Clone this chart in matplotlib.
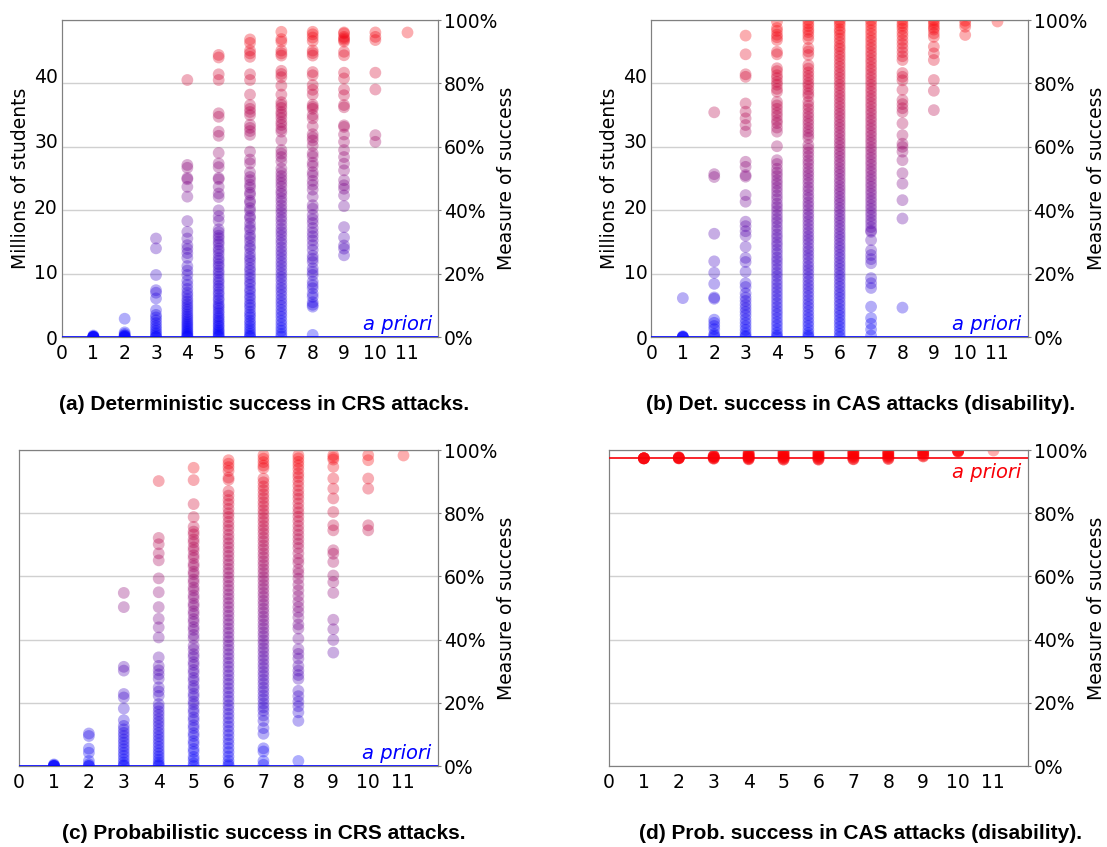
import matplotlib
matplotlib.use("Agg")
from matplotlib import pyplot as plt

# number of questions / attributes on the x axis
columns = list(range(1, 12))

# measure of success (%) of each attack, one list per column 1..11
det_crs = [
    [0.0, 0.0, 0.0, 0.0, 0.2, 0.2, 0.5],
    [5.8, 1.5, 1.0, 0.5, 0.5, 0.2, 0.0, 0.0],
    [31.1, 28.0, 19.6, 14.8, 14.0, 12.2, 8.5, 7.0, 6.2, 5.3, 4.4, 3.5, 2.7,
     1.9, 1.2, 0.6, 0.0, 0.0],
    [81.1, 54.3, 53.4, 50.2, 49.8, 47.4, 44.3, 36.6, 33.2, 31.1, 29.0, 27.8,
     26.5, 25.0, 22.4, 21.0, 19.6, 17.8, 16.5, 15.2, 14.0, 13.1, 12.0, 11.2,
     10.3, 9.5, 8.7, 7.9, 7.1, 6.4, 5.7, 5.0, 4.4, 3.8, 3.2, 2.6, 2.0, 1.5,
     1.0, 0.6, 0.2, 0.0],
    [89.0, 88.2, 82.9, 81.1, 70.6, 69.5, 64.8, 63.5, 58.1, 54.8, 53.6, 50.2,
     49.8, 47.4, 45.3, 44.2, 40.0, 38.1, 36.7, 34.0, 33.1, 32.0, 31.2, 30.1,
     29.3, 28.0, 27.2, 26.1, 24.9, 24.1, 23.0, 22.2, 21.0, 20.2, 19.1, 18.0,
     17.2, 16.1, 15.3, 14.2, 13.4, 12.3, 11.6, 10.5, 9.8, 9.1, 8.2, 7.5, 6.6,
     6.0, 5.2, 4.6, 3.8, 3.3, 2.5, 2.0, 1.4, 0.9, 0.4, 0.0],
    [93.9, 92.8, 90.4, 89.5, 88.4, 82.9, 81.1, 76.5, 73.2, 72.0, 71.0, 70.0,
     67.0, 66.0, 65.0, 63.8, 58.5, 56.0, 54.8, 52.0, 50.5, 49.5, 48.1, 47.2,
     45.6, 44.9, 43.0, 42.4, 40.7, 39.8, 38.1, 37.5, 35.9, 34.6, 33.8, 32.2,
     31.3, 30.1, 28.7, 27.9, 26.4, 25.2, 24.3, 23.1, 21.8, 20.9, 19.7, 18.6,
     17.4, 16.5, 15.2, 14.3, 13.1, 12.2, 11.0, 10.1, 9.2, 8.0, 7.1, 6.3, 5.2,
     4.4, 3.5, 2.6, 1.8, 1.0, 0.4, 0.0],
    [96.3, 94.0, 93.2, 90.4, 89.5, 88.8, 84.0, 83.0, 82.0, 79.3, 76.5, 74.1,
     73.2, 72.3, 71.0, 70.2, 69.1, 67.8, 66.9, 65.7, 64.8, 62.1, 59.0, 57.9,
     56.8, 55.4, 53.2, 51.9, 50.8, 49.7, 48.6, 47.5, 46.1, 45.2, 43.9, 42.8,
     41.5, 40.3, 39.2, 37.9, 36.8, 35.5, 34.2, 33.1, 32.0, 30.7, 29.6, 28.3,
     27.1, 26.0, 24.8, 23.6, 22.5, 21.3, 20.1, 19.0, 17.9, 16.6, 15.5, 14.4,
     13.2, 12.0, 10.9, 9.8, 8.6, 7.5, 6.4, 5.2, 4.1, 3.0, 2.0, 1.0, 0.2],
    [96.3, 95.5, 94.5, 93.4, 90.4, 89.6, 88.8, 83.6, 82.6, 79.5, 78.0, 76.5,
     73.3, 72.6, 72.0, 70.0, 69.0, 66.5, 64.0, 63.0, 62.0, 60.4, 58.0, 57.0,
     55.0, 54.0, 52.0, 51.0, 49.3, 48.0, 46.5, 44.3, 41.6, 40.5, 38.5, 37.2,
     36.0, 34.4, 33.0, 31.8, 30.5, 29.0, 27.5, 25.7, 24.7, 23.7, 21.7, 20.6,
     19.6, 17.5, 16.4, 15.4, 13.7, 12.7, 11.0, 10.2, 9.6, 0.7],
    [96.1, 95.8, 94.7, 94.2, 93.7, 93.2, 90.0, 88.9, 83.4, 81.6, 78.1, 76.3,
     73.2, 72.5, 66.8, 66.3, 63.9, 61.6, 59.0, 56.8, 54.7, 52.6, 49.5, 47.9,
     46.8, 44.7, 41.3, 34.7, 31.4, 28.9, 27.9, 25.8],
    [96.1, 94.7, 93.7, 83.4, 78.1, 63.7, 61.6],
    [96.1],
]

det_cas = [
    [12.3, 0.3, 0.0, 0.0, 0.0, 0.0],
    [70.9, 51.4, 50.5, 32.6, 23.9, 20.3, 16.8, 12.5, 12.1, 5.5, 4.5, 3.5, 2.5,
     1.0, 0.5, 0.0],
    [95.1, 89.2, 82.9, 82.1, 73.7, 71.1, 69.0, 66.9, 64.8, 55.3, 53.7, 51.1,
     50.6, 44.8, 42.7, 36.4, 35.0, 33.4, 32.0, 28.5, 25.0, 23.7, 20.6, 17.0,
     15.8, 13.8, 12.5, 11.4, 10.2, 9.1, 8.0, 6.9, 5.6, 4.5, 3.4, 2.3, 1.2,
     0.4, 0.0],
    [99.5, 97.5, 96.6, 95.4, 94.6, 93.7, 90.0, 89.2, 84.8, 83.9, 82.6, 81.7,
     80.5, 79.6, 78.3, 77.4, 74.2, 73.1, 72.0, 70.8, 69.7, 68.4, 67.5, 66.1,
     64.8, 60.2, 55.8, 54.6, 53.1, 51.9, 50.8, 49.5, 48.4, 47.2, 46.0, 44.7,
     43.5, 42.1, 41.0, 39.8, 38.5, 37.3, 36.2, 34.9, 33.7, 32.4, 31.3, 30.0,
     28.9, 27.6, 26.4, 25.1, 24.0, 22.8, 21.5, 20.3, 19.2, 17.9, 16.7, 15.5,
     14.3, 13.1, 11.9, 10.7, 9.5, 8.3, 7.2, 6.0, 4.8, 3.7, 2.5, 1.4, 0.5, 0.0],
    [100.0, 99.0, 98.1, 97.0, 96.2, 95.1, 94.0, 91.2, 90.1, 89.0, 85.8, 84.7,
     83.5, 82.4, 81.3, 80.1, 79.2, 78.0, 76.9, 76.0, 74.2, 73.0, 71.9, 70.6,
     69.5, 68.3, 67.2, 66.0, 64.9, 63.8, 62.8, 60.6, 59.4, 58.2, 57.0, 55.7,
     54.6, 53.3, 52.1, 51.0, 49.8, 48.6, 47.3, 46.2, 44.9, 43.8, 42.5, 41.4,
     40.2, 38.9, 37.8, 36.6, 35.4, 34.2, 33.0, 31.8, 30.7, 29.5, 28.2, 27.1,
     25.9, 24.8, 23.5, 22.3, 21.2, 20.0, 18.8, 17.6, 16.4, 15.3, 14.1, 12.9,
     11.7, 10.5, 9.4, 8.2, 7.0, 5.9, 4.7, 3.6, 2.4, 1.3, 0.5, 0.0],
    [100.0, 99.2, 98.3, 97.1, 96.3, 95.2, 94.1, 93.0, 91.8, 90.9, 89.7, 88.6,
     87.5, 86.3, 85.2, 84.0, 82.9, 81.8, 80.6, 79.5, 78.4, 77.2, 76.1, 75.0,
     73.8, 72.7, 71.5, 70.4, 69.3, 68.1, 67.0, 65.9, 64.7, 63.6, 62.4, 61.3,
     60.2, 59.0, 57.9, 56.8, 55.6, 54.5, 53.3, 52.2, 51.1, 49.9, 48.8, 47.6,
     46.5, 45.4, 44.2, 43.1, 42.0, 40.8, 39.7, 38.5, 37.4, 36.3, 35.1, 34.0,
     32.8, 31.7, 30.6, 29.4, 28.3, 27.2, 26.0, 24.9, 23.7, 22.6, 21.5, 20.3,
     19.2, 18.1, 16.9, 15.8, 14.6, 13.5, 12.4, 11.2, 10.1, 8.9, 7.8, 6.7, 5.5,
     4.4, 3.3, 2.1, 1.0, 0.0],
    [100.0, 99.1, 98.0, 96.8, 95.7, 94.5, 93.4, 92.2, 91.1, 89.9, 88.8, 87.6,
     86.5, 85.3, 84.2, 83.0, 81.9, 80.7, 79.6, 78.4, 77.3, 76.1, 75.0, 73.8,
     72.7, 71.5, 70.4, 69.2, 68.1, 66.9, 65.8, 64.6, 63.5, 62.3, 61.2, 60.0,
     58.9, 57.7, 56.6, 55.4, 54.3, 53.1, 52.0, 50.8, 49.7, 48.5, 47.4, 46.2,
     45.1, 43.9, 42.8, 41.6, 40.5, 39.3, 38.2, 37.0, 35.9, 34.7, 33.6, 33.2,
     30.6, 27.4, 25.9, 24.6, 23.3, 18.6, 17.0, 15.5, 9.6, 6.0, 4.2, 2.4, 0.5],
    [100.0, 99.0, 98.2, 97.3, 96.1, 95.0, 93.7, 92.5, 91.2, 89.9, 88.6, 87.4,
     83.3, 82.1, 81.0, 78.0, 74.8, 73.5, 72.2, 71.0, 67.4, 63.7, 61.0, 60.0,
     58.5, 55.8, 51.7, 48.4, 43.2, 37.4, 9.3],
    [100.0, 99.3, 98.5, 97.6, 97.0, 95.8, 94.7, 91.6, 89.5, 87.4, 81.1, 77.7,
     71.6],
    [99.8, 98.9, 97.9, 95.3],
    [99.8],
]

prob_crs = [
    [0.5, 0.3, 0.0, 0.0, 0.0, 0.0],
    [10.3, 9.5, 5.5, 4.2, 1.6, 0.5, 0.0, 0.0],
    [54.8, 50.3, 31.4, 30.2, 22.8, 21.7, 18.2, 14.5, 12.7, 11.6, 10.5, 9.5,
     8.4, 7.4, 6.3, 5.3, 4.2, 3.2, 2.1, 1.1, 0.3, 0.0],
    [90.2, 72.2, 70.2, 67.3, 65.1, 59.4, 55.0, 50.3, 46.6, 43.9, 40.7, 34.4,
     31.7, 30.3, 29.0, 27.6, 24.9, 23.6, 22.2, 19.6, 18.5, 17.3, 16.2, 15.0,
     13.9, 12.8, 11.6, 10.5, 9.4, 8.3, 7.2, 6.1, 5.0, 4.0, 3.0, 2.0, 1.1, 0.4,
     0.0],
    [94.4, 90.5, 82.9, 78.8, 75.7, 74.2, 73.3, 71.7, 70.8, 69.2, 68.3, 66.7,
     65.8, 64.0, 63.2, 61.5, 60.7, 59.0, 58.1, 56.5, 55.6, 54.0, 53.1, 51.4,
     50.6, 49.0, 48.1, 46.5, 45.6, 44.0, 43.1, 41.5, 40.4, 38.1, 36.9, 35.4,
     34.5, 32.9, 32.0, 30.4, 29.5, 27.9, 27.0, 25.4, 24.5, 22.9, 22.0, 20.4,
     19.5, 17.9, 17.0, 15.4, 14.5, 12.9, 12.0, 10.4, 9.5, 7.9, 7.0, 5.4, 4.5,
     2.9, 2.0, 0.8, 0.0],
    [96.8, 95.7, 94.6, 93.4, 91.3, 90.6, 87.0, 85.6, 84.2, 82.9, 81.4, 80.0,
     78.8, 77.3, 76.0, 74.7, 73.2, 71.9, 70.5, 69.2, 67.8, 66.5, 65.1, 63.8,
     62.4, 61.1, 59.7, 58.4, 57.0, 55.7, 54.3, 53.0, 51.6, 50.3, 48.9, 47.6,
     46.2, 44.9, 43.5, 42.2, 40.8, 39.5, 38.1, 36.8, 35.4, 34.1, 32.7, 31.4,
     30.0, 28.7, 27.3, 26.0, 24.6, 23.3, 21.9, 20.6, 19.2, 17.9, 16.5, 15.2,
     13.8, 12.5, 11.1, 9.8, 8.4, 7.1, 5.7, 4.4, 3.0, 1.7, 0.6, 0.0],
    [98.4, 97.3, 96.2, 95.1, 94.3, 91.0, 89.8, 88.5, 87.3, 86.0, 84.8, 83.5,
     82.3, 81.0, 79.8, 78.5, 77.3, 76.0, 74.8, 73.6, 72.3, 71.1, 69.8, 68.6,
     67.3, 66.1, 64.8, 63.6, 62.3, 61.1, 59.8, 58.6, 57.3, 56.1, 54.8, 53.6,
     52.3, 51.1, 49.8, 48.6, 47.3, 46.1, 44.8, 43.6, 42.3, 41.1, 39.8, 38.6,
     37.3, 36.1, 34.8, 33.6, 32.3, 31.1, 29.8, 28.6, 27.3, 26.1, 24.8, 23.6,
     22.3, 21.1, 19.8, 18.6, 17.5, 16.0, 14.3, 12.0, 10.2, 5.6, 4.6, 1.6, 0.4],
    [98.4, 97.4, 96.3, 95.2, 94.0, 92.6, 91.5, 90.1, 88.7, 87.2, 85.9, 84.6,
     83.1, 81.6, 80.3, 78.9, 77.5, 76.0, 74.6, 73.2, 71.8, 70.4, 69.0, 67.3,
     65.5, 64.3, 62.2, 61.0, 59.3, 57.4, 55.6, 53.8, 52.0, 50.3, 48.8, 47.0,
     44.8, 43.5, 40.3, 37.0, 35.5, 34.0, 31.7, 30.2, 28.8, 27.6, 23.8, 22.1,
     20.4, 18.9, 17.0, 14.3, 1.6],
    [98.4, 97.6, 97.0, 94.7, 91.0, 87.8, 84.7, 80.4, 76.2, 74.6, 68.3, 67.2,
     64.6, 60.3, 58.2, 54.8, 46.3, 43.3, 39.9, 35.9],
    [98.4, 96.8, 91.0, 87.8, 76.2, 74.6],
    [98.4],
]

prob_cas = [
    [97.4, 97.4, 97.4, 97.4, 97.4, 97.4, 97.4, 97.4],
    [97.4, 97.4, 97.4, 97.5, 97.5, 97.7, 97.7, 97.7],
    [97.3, 97.3, 97.5, 97.5, 97.7, 97.9, 97.9, 98.1, 98.1, 98.2],
    [97.1, 97.1, 97.3, 97.5, 97.5, 97.7, 97.9, 98.1, 98.2, 98.4, 98.6, 98.9,
     99.1, 99.3],
    [97.0, 97.0, 97.2, 97.5, 97.5, 97.8, 98.0, 98.2, 98.5, 98.7, 99.0, 99.2,
     99.5, 99.7],
    [97.0, 97.0, 97.2, 97.4, 97.6, 97.9, 98.1, 98.4, 98.6, 98.9, 99.1, 99.4,
     99.6],
    [97.1, 97.1, 97.3, 97.6, 97.8, 98.1, 98.3, 98.6, 98.8, 99.1, 99.3, 99.5,
     99.7],
    [97.2, 97.2, 97.5, 97.7, 98.0, 98.2, 98.5, 98.7, 99.0, 99.2, 99.4, 99.6],
    [98.0, 98.0, 98.3, 98.6, 98.9, 99.2, 99.4, 99.6, 99.8],
    [99.5, 99.5, 99.6, 99.7, 99.8, 99.9],
    [99.9],
]

# a priori measure of success of each setting
priors = [0.0, 0.0, 0.0, 97.4]

captions = [
    "(a) Deterministic success in CRS attacks.",
    "(b) Det. success in CAS attacks (disability).",
    "(c) Probabilistic success in CRS attacks.",
    "(d) Prob. success in CAS attacks (disability).",
]

MILLIONS_AT_100 = 48.4


def success_color(p):
    # blue for no success, red for full success
    f = min(max(p / 100.0, 0.0), 1.0)
    return (f, 0.0, 1.0 - f)


def draw_panel(fig, rect, data, prior, caption, caption_xy, show_students):
    ax = fig.add_axes(rect)
    ax2 = ax.twinx()

    ax.set_xlim(0, 12)
    ax.set_ylim(0, MILLIONS_AT_100)
    ax.set_xticks(range(0, 12))
    ax.tick_params(axis="x", length=0, pad=5, labelsize=13.5)
    if show_students:
        ax.set_yticks([0, 10, 20, 30, 40])
        ax.tick_params(axis="y", length=0, pad=3, labelsize=13.5)
        ax.set_ylabel("Millions of students", fontsize=13.5, labelpad=3)
    else:
        ax.set_yticks([])

    ax2.set_ylim(0, 100)
    ax2.set_yticks([0, 20, 40, 60, 80, 100])
    ax2.set_yticklabels(["%d%%" % t for t in [0, 20, 40, 60, 80, 100]])
    ax2.tick_params(axis="y", length=2, color="0.5", pad=2, labelsize=13.5)
    ax2.set_ylabel("Measure of success", fontsize=13.5, labelpad=0)
    ax2.set_axisbelow(True)
    ax2.grid(axis="y", color="#d0d0d0", linewidth=1)

    for a in (ax, ax2):
        for s in a.spines.values():
            s.set_color("0.5")

    for x, vals in zip(columns, data):
        ax2.scatter([x] * len(vals), vals, s=72, linewidths=0, alpha=0.32,
                    c=[success_color(v) for v in vals], zorder=2)

    # a priori line and its label
    pc = success_color(prior)
    ax2.axhline(prior, color=pc, linewidth=1.2, zorder=3)
    if prior < 50:
        ax2.text(11.8, prior + 1.0, "a priori", color=pc, style="italic",
                 fontsize=14, ha="right", va="bottom")
    else:
        ax2.text(11.8, prior - 1.5, "a priori", color=pc, style="italic",
                 fontsize=14, ha="right", va="top")

    fig.text(caption_xy[0], caption_xy[1], caption, ha="center", va="center",
             fontsize=15, fontweight="bold", family="Liberation Sans")


fig = plt.figure(figsize=(11.07, 8.47), dpi=100)

draw_panel(fig, [0.056, 0.602, 0.3397, 0.3743], det_crs, priors[0],
           captions[0], (0.2385, 0.522), True)
draw_panel(fig, [0.5885, 0.602, 0.3401, 0.3743], det_cas, priors[1],
           captions[1], (0.777, 0.522), True)
draw_panel(fig, [0.0172, 0.0956, 0.3785, 0.373], prob_crs, priors[2],
           captions[2], (0.2385, 0.0165), False)
draw_panel(fig, [0.5501, 0.0956, 0.3785, 0.373], prob_cas, priors[3],
           captions[3], (0.777, 0.0165), False)

fig.savefig("out.png", dpi=100, facecolor="white")
